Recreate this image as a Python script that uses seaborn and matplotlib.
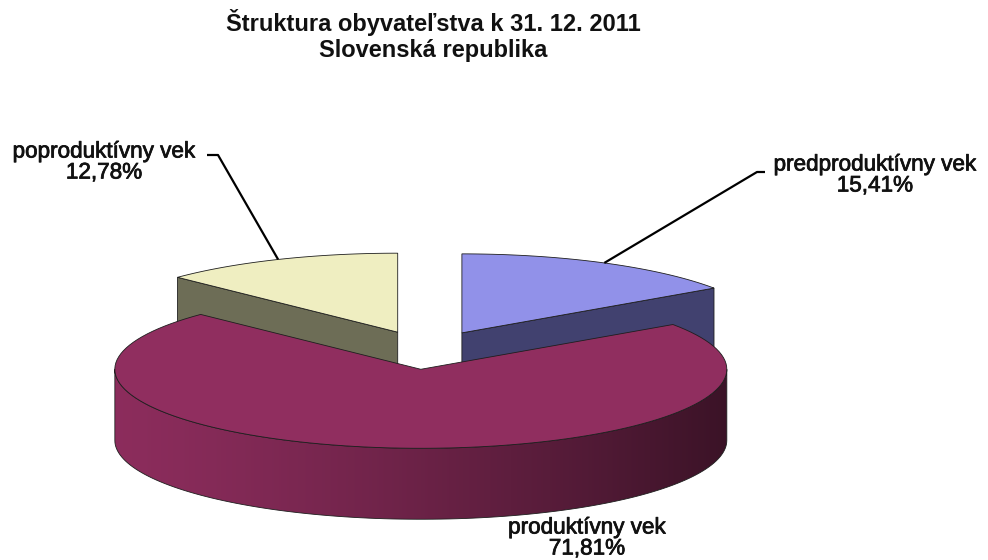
import numpy as np
import matplotlib
matplotlib.use("Agg")
import matplotlib.pyplot as plt
import seaborn as sns
import matplotlib.patheffects as pe
from matplotlib.patches import Polygon
from matplotlib.colors import to_rgb

# ---- data ----
categories = ["predproduktívny vek", "produktívny vek", "poproduktívny vek"]
values = [15.41, 71.81, 12.78]
pct_labels = ["15,41%", "71,81%", "12,78%"]
title_lines = ["Štruktura obyvateľstva k 31. 12. 2011", "Slovenská republika"]

# ---- styles / layout ----
top_colors = ["#9191E9", "#902E5F", "#EFEEC1"]
side_colors = ["#41416F", "#902E5F", "#6D6D56"]
label_xy = [(875, 165), (587, 528), (104, 152)]
leader_elbow = [[(757, 172), (765, 172)], None, [(218, 155), (207, 155)]]

sns.set_theme(style="white")
plt.rcParams["font.family"] = ["Liberation Sans", "DejaVu Sans"]

fig = plt.figure(figsize=(9.88, 5.6), dpi=100)
ax = fig.add_axes([0, 0, 1, 1])

CX, CY = 427, 350
RX, RY, DEPTH = 306, 79, 71
EXPLODE = 0.245
EDGE = "#1e1e1e"

fr = np.array(values) / np.sum(values)
ends = np.cumsum(fr) * 360.0
starts = ends - fr * 360.0
mids = (starts + ends) / 2.0


def arc(c, a0, a1, dz=0.0, n=120):
    t = np.radians(np.linspace(a0, a1, n))
    return np.column_stack([c[0] + RX * np.sin(t), c[1] - RY * np.cos(t) + dz])


def point(c, a, dz=0.0):
    t = np.radians(a)
    return np.array([c[0] + RX * np.sin(t), c[1] - RY * np.cos(t) + dz])


centers = [
    (CX + EXPLODE * RX * np.sin(np.radians(m)), CY - EXPLODE * RY * np.cos(np.radians(m)))
    for m in mids
]

order = np.argsort([c[1] for c in centers])  # back to front
z = 2
for i in order:
    c = np.array(centers[i])
    s, e = starts[i], ends[i]
    apex_b = c + np.array([0, DEPTH])
    # radial face at start angle
    if np.sin(np.radians(s)) < -1e-6:
        p = point(c, s)
        poly = [c, p, p + [0, DEPTH], apex_b]
        ax.add_patch(Polygon(poly, closed=True, fc=side_colors[i], ec=EDGE, lw=0.6, zorder=z))
    # radial face at end angle
    if np.sin(np.radians(e)) > 1e-6:
        p = point(c, e)
        poly = [c, p, p + [0, DEPTH], apex_b]
        ax.add_patch(Polygon(poly, closed=True, fc=side_colors[i], ec=EDGE, lw=0.6, zorder=z))
    # outer curved wall (front half only)
    w0, w1 = max(s, 90), min(e, 270)
    if w1 > w0:
        top = arc(c, w0, w1, 0)
        bot = arc(c, w1, w0, DEPTH)
        wall = np.vstack([top, bot])
        patch = Polygon(wall, closed=True, fc="none", ec=EDGE, lw=0.6, zorder=z + 0.2)
        ax.add_patch(patch)
        x0, x1 = wall[:, 0].min(), wall[:, 0].max()
        y0, y1 = wall[:, 1].min(), wall[:, 1].max()
        u = np.linspace(0, 1, 300)
        f = 0.97 - 0.56 * u ** 1.3
        base = np.array(to_rgb(side_colors[i]))
        grad = np.clip(f[None, :, None] * base[None, None, :], 0, 1)
        grad = np.repeat(grad, 2, axis=0)
        im = ax.imshow(grad, extent=(x0, x1, y1, y0), aspect="auto",
                       interpolation="bilinear", zorder=z + 0.1)
        im.set_clip_path(patch)
    # top face
    topface = np.vstack([c, arc(c, s, e, 0)])
    ax.add_patch(Polygon(topface, closed=True, fc=top_colors[i], ec=EDGE, lw=0.6, zorder=z + 0.5))
    z += 1

# leader lines
for i in range(len(values)):
    if leader_elbow[i] is None:
        continue
    p0 = point(centers[i], mids[i])
    pts = np.vstack([p0, leader_elbow[i]])
    ax.plot(pts[:, 0], pts[:, 1], color="black", lw=1.6, zorder=20, solid_capstyle="butt")

# labels
heavy = [pe.withStroke(linewidth=0.55, foreground="#111111")]
for i in range(len(values)):
    x, y = label_xy[i]
    ax.text(x, y, categories[i], ha="center", va="center", fontsize=16.2, color="#111111",
            zorder=21, path_effects=heavy)
    ax.text(x, y + 21, pct_labels[i], ha="center", va="center", fontsize=16.2, color="#111111",
            zorder=21, path_effects=heavy)

ax.set_xlim(0, 988)
ax.set_ylim(560, 0)
ax.axis("off")

fig.text(433 / 988, 1 - 22 / 560, title_lines[0], ha="center", va="center",
         fontsize=17, fontweight="bold", color="#111111")
fig.text(433 / 988, 1 - 50 / 560, title_lines[1], ha="center", va="center",
         fontsize=17, fontweight="bold", color="#111111")

fig.savefig("out.png", dpi=100, facecolor="white")
